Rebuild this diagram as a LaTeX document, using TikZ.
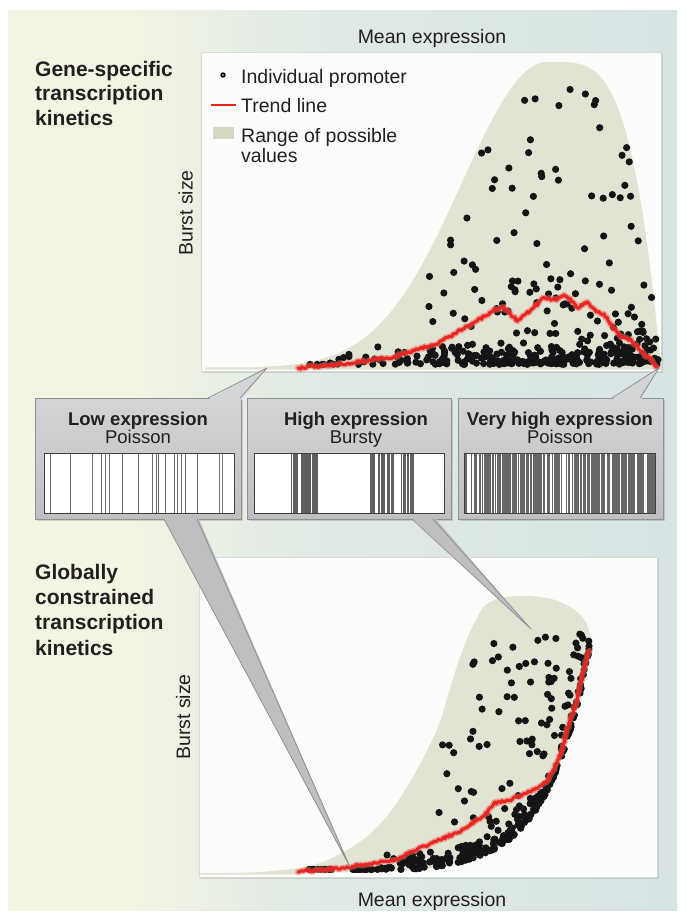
\documentclass[tikz,border=0pt]{standalone}
\usepackage{fontspec}
\setmainfont{Liberation Sans}
\usetikzlibrary{shadows,calc}
\definecolor{bgA}{HTML}{F3F5E3}
\definecolor{bgB}{HTML}{E2EBE4}
\definecolor{bgC}{HTML}{D6E4E4}
\definecolor{rangeG}{HTML}{E1E4D3}
\definecolor{legG}{HTML}{D3D9C1}
\definecolor{boxT}{HTML}{D3D4D6}
\definecolor{boxB}{HTML}{BEBFC1}
\definecolor{boxE}{HTML}{8E9093}
\definecolor{plotW}{HTML}{FCFCFA}
\definecolor{trend}{HTML}{E8251F}
\definecolor{txt}{HTML}{231F20}
\definecolor{barD}{HTML}{5E5F61}
\pgfdeclarehorizontalshading{bgshade}{100bp}{color(0bp)=(bgA); color(25bp)=(bgA); color(34bp)=(bgA); color(45bp)=(bgB); color(75bp)=(bgC); color(100bp)=(bgC)}
\pgfmathdeclarefunction{ftop}{1}{\pgfmathparse{(#1<547)*306*exp(0-(((547-#1)/120)^2))+(#1>=547)*306*(1-(((#1-547)/114)^2)^2)}}
\pgfmathdeclarefunction{flo}{1}{\pgfmathparse{233*exp((#1-591)/42)}}
\pgfmathdeclarefunction{fup}{1}{\pgfmathparse{min(245,276/(1+exp(0-(#1-436)/20)))}}
% jagged path builder: #1 start x, #2 start y, #3 list of x/y
\newcommand\buildjag[3]{%
  \gdef\jagacc{}%
  \foreach \px/\py [remember=\px as \lx (initially #1), remember=\py as \ly (initially #2)] in {#3}{%
    \pgfmathtruncatemacro\nn{max(1,round(veclen(\px-\lx,\py-\ly)/1.8))}%
    \foreach \k in {1,...,\nn}{%
      \pgfmathsetmacro\qx{\lx+(\px-\lx)*\k/\nn+(rnd-0.5)*1.4}%
      \pgfmathsetmacro\qy{\ly+(\py-\ly)*\k/\nn+(rnd-0.5)*2.8}%
      \xdef\jagacc{\jagacc -- (\qx,\qy)}%
    }%
  }%
}
\begin{document}
\begin{tikzpicture}[x=1pt,y=-1pt,
  txtn/.style={text=txt, inner sep=0pt, font=\fontsize{19.5}{23}\selectfont},
  ttl/.style={text=txt, inner sep=0pt, anchor=base west, font=\bfseries\fontsize{21}{24}\selectfont},
  bxt/.style={text=txt, inner sep=0pt, anchor=base, font=\bfseries\fontsize{18.5}{22}\selectfont},
  bxs/.style={text=txt, inner sep=0pt, anchor=base, font=\fontsize{18.5}{22}\selectfont},
  plotbox/.style={fill=plotW, draw=black!15, line width=0.5pt, inner sep=0pt, anchor=north west, drop shadow={shadow xshift=2pt,shadow yshift=-2pt,opacity=0.25}},
  callbox/.style={top color=boxT, bottom color=boxB, draw=boxE, line width=0.8pt, inner sep=0pt, anchor=north west, drop shadow={shadow xshift=2pt,shadow yshift=-2pt,opacity=0.3}},
  wedgeline/.style={draw=boxE, line width=0.8pt, line join=round},
  dotc/.style={fill=black!92},
  barframe/.style={draw=black!75, line width=0.8pt},
  glow/.style={draw=trend!70, opacity=0.55, line width=6pt, line join=round, line cap=round},
  core/.style={draw=trend, line width=3pt, line join=round, line cap=round}
]
\useasboundingbox (0,0) rectangle (687,919);
\fill[white] (0,0) rectangle (687,919);
\shade[shading=bgshade] (8,10) rectangle (677,910);
\pgfmathsetseed{7}

% ---------- top plot ----------
\node[plotbox, minimum width=460pt, minimum height=319pt] (tp) at (201,52) {};
\fill[rangeG] (205,369.5) -- (205,367.5) -- (265,367.2) -- plot[domain=265:547,samples=70] (\x,{368-ftop(\x)}) -- plot[domain=547:661,samples=50] (\x,{368-ftop(\x)}) -- (661,369.5) -- cycle;
\foreach \i in {1,...,110}{
  \pgfmathsetmacro\xx{395+263*(0.001+rnd)^0.6}
  \pgfmathsetmacro\cc{3.6+max(0,ftop(\xx)-16)*(0.001+rnd)^1.6}
  \fill[dotc] (\xx,{368-\cc}) circle[radius=3.6pt];
}
\foreach \i in {1,...,60}{
  \pgfmathsetmacro\xx{430+228*(0.001+rnd)^0.6}
  \pgfmathsetmacro\cc{3.6+max(0,ftop(\xx)-12)*0.3*rnd}
  \fill[dotc] (\xx,{368-\cc}) circle[radius=3.6pt];
}
\foreach \i in {1,...,240}{
  \pgfmathsetmacro\xx{298+360*(0.001+rnd)^0.55}
  \pgfmathsetmacro\cc{3.6+min(max(0,ftop(\xx)-10),24*rnd*rnd)}
  \fill[dotc] (\xx,{368-\cc}) circle[radius=3.6pt];
}
\buildjag{298}{368}{350/363,394/357,438/343,464/328,482/318,495/310,504/308,517/320,526/314,534/307,543/298,556/300,565/295,578/307,587/302,596/310,604/315,613/327,622/337,631/340,640/350,648/357,657/367}
\draw[glow] (298,368) \jagacc;
\draw[core] (298,368) \jagacc;

% legend
\fill[black] (223,75) circle[radius=2.7pt];
\fill[black!35] (223,75) circle[radius=1.1pt];
\draw[trend, line width=2.8pt] (211,105) -- (236,105);
\fill[legG] (213,127) rectangle (234,139);
\node[txtn, anchor=base west] (l1) at (241,83) {Individual promoter};
\node[txtn, anchor=base west] (l2) at (241,112) {Trend line};
\node[txtn, anchor=base west] (l3) at (241,142) {Range of possible};
\node[txtn, anchor=base west] (l4) at (241,162) {values};

% ---------- bottom plot ----------
\node[plotbox, minimum width=458pt, minimum height=320pt] (bp) at (199,557) {};
\fill[rangeG] (200,874.5) -- (298,874.5) -- plot[domain=298:591,samples=60] (\x,{873-flo(\x)}) -- plot[smooth] coordinates {(591,640) (587,624) (575,610) (555,600) (530,596) (505,597) (490,602) (482,609) (470,632) (460,657) (449,692) (438,727) (418,768) (394,807) (370,834) (342,853) (310,866) (260,872) (200,873)} -- cycle;
\foreach \i in {1,...,90}{
  \pgfmathsetmacro\xx{432+153*(0.001+rnd)^0.7}
  \pgfmathsetmacro\lo{flo(\xx)+4}
  \pgfmathsetmacro\hi{max(\lo,fup(\xx)-6)}
  \pgfmathsetmacro\cc{\lo+(\hi-\lo)*rnd}
  \fill[dotc] (\xx,{873-\cc}) circle[radius=3.6pt];
}
\foreach \i in {1,...,250}{
  \pgfmathsetmacro\xx{300+290*(0.001+rnd)^0.6}
  \pgfmathsetmacro\cc{max(3.6,min(flo(\xx)+0.5+18*rnd*rnd,max(3.6,fup(\xx)-4)))}
  \fill[dotc] (\xx,{873-\cc}) circle[radius=3.6pt];
}
\buildjag{298}{872}{340/868,394/860,438/840,460/832,473/823,485/815,495/803,510/800,534/790,545/783,552/773,562/750,569/723,577/700,583/673,589/650}
\draw[glow] (298,872) \jagacc;
\draw[core] (298,872) \jagacc;

% ---------- callout boxes ----------
\node[callbox, minimum width=206pt, minimum height=121pt] (b1) at (35,398) {};
\node[callbox, minimum width=204pt, minimum height=121pt] (b2) at (247,398) {};
\node[callbox, minimum width=205pt, minimum height=121pt] (b3) at (458,398) {};

\coordinate (w1a) at (208,398); \coordinate (w1b) at (240,398); \coordinate (w1t) at (267,368);
\coordinate (w3a) at (612,398); \coordinate (w3b) at (640,398); \coordinate (w3t) at (659,368);
\coordinate (w4a) at (164,519); \coordinate (w4b) at (197,519); \coordinate (w4t) at (350,867);
\coordinate (w5a) at (412,519); \coordinate (w5b) at (433,519); \coordinate (w5t) at (531,629);
\fill[boxT] ($(w1a)+(-1,2)$) -- (w1t) -- ($(w1b)+(1,2)$) -- cycle;
\draw[wedgeline] (w1a) -- (w1t) -- (w1b);
\fill[boxT] ($(w3a)+(-1,2)$) -- (w3t) -- ($(w3b)+(1,2)$) -- cycle;
\draw[wedgeline] (w3a) -- (w3t) -- (w3b);
\fill[boxB] ($(w4a)+(-1,-2)$) -- (w4t) -- ($(w4b)+(1,-2)$) -- cycle;
\draw[wedgeline] (w4a) -- (w4t) -- (w4b);
\fill[boxB] ($(w5a)+(-1,-2)$) -- (w5t) -- ($(w5b)+(1,-2)$) -- cycle;
\draw[wedgeline] (w5a) -- (w5t) -- (w5b);

\node[bxt] (b1t) at (138,425) {Low expression};
\node[bxs] (b1s) at (138,443) {Poisson};
\node[bxt] (b2t) at (356,425) {High expression};
\node[bxs] (b2s) at (356,443) {Bursty};
\node[bxt] (b3t) at (560,425) {Very high expression};
\node[bxs] (b3s) at (560,443) {Poisson};

% barcode 1
\fill[white] (44,453) rectangle (234,513);
\foreach \f in {0.035,0.139,0.256,0.303,0.321,0.347,0.413,0.495,0.570,0.592,0.601,0.639,0.686,0.700,0.726,0.746,0.808,0.923,0.941}{
  \draw[black!55, line width=0.9pt] ({44+190*\f},453) -- ({44+190*\f},513);
}
\draw[barframe] (44,453) rectangle (234,513);
% barcode 2
\fill[white] (254,453) rectangle (444,513);
\foreach \a/\b/\n in {291/318/8,370/394/7,401/414/3}{
  \fill[barD] (\a,453) rectangle (\b,513);
  \foreach \j in {1,...,\n}{
    \pgfmathsetmacro\wx{\a+1+(\b-\a-2)*rnd}
    \draw[white, line width=0.8pt] (\wx,453) -- (\wx,513);
  }
}
\draw[barframe] (254,453) rectangle (444,513);
% barcode 3
\fill[barD!95] (464,453) rectangle (655,513);
\foreach \j in {1,...,55}{
  \pgfmathsetmacro\wx{466+187*rnd}
  \pgfmathsetmacro\lw{0.4+0.9*rnd}
  \draw[white, line width=\lw pt] (\wx,453) -- (\wx,513);
}
\draw[barframe] (464,453) rectangle (655,513);

% ---------- texts ----------
\node[ttl] (g1) at (35,76) {Gene-specific};
\node[ttl] (g2) at (35,100.5) {transcription};
\node[ttl] (g3) at (35,125) {kinetics};
\node[ttl] (h1) at (35,579) {Globally};
\node[ttl] (h2) at (35,604) {constrained};
\node[ttl] (h3) at (35,629) {transcription};
\node[ttl] (h4) at (35,655) {kinetics};
\node[txtn, anchor=base] (mx1) at (432,43.5) {Mean expression};
\node[txtn, anchor=base] (mx2) at (432,906.5) {Mean expression};
\node[txtn, anchor=base, rotate=90] (by1) at (192.5,213) {Burst size};
\node[txtn, anchor=base, rotate=90] (by2) at (190,717) {Burst size};
\end{tikzpicture}
\end{document}
